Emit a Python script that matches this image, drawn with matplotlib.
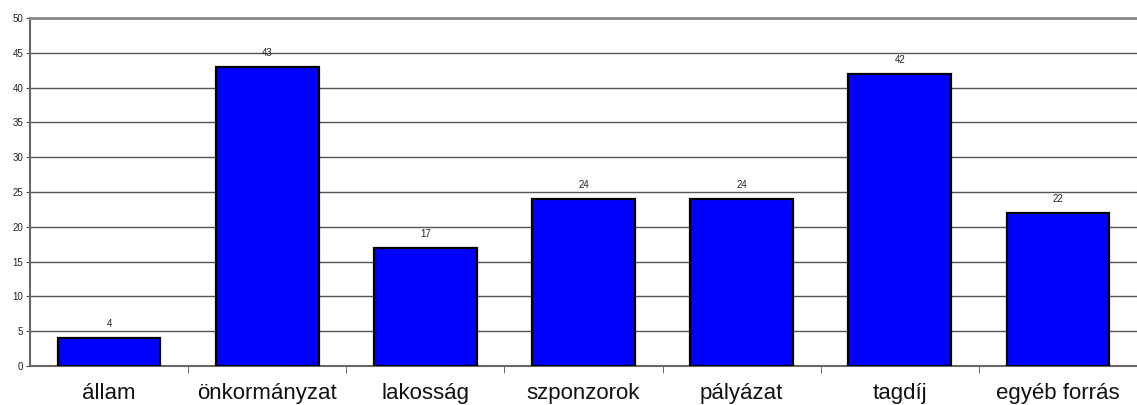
import matplotlib.pyplot as plt

kategoriak = ["állam", "önkormányzat", "lakosság", "szponzorok", "pályázat", "tagdíj", "egyéb forrás"]
ertekek = [4, 43, 17, 24, 24, 42, 22]
y_tickek = [0, 5, 10, 15, 20, 25, 30, 35, 40, 45, 50]

plt.rcParams['font.family'] = ['Liberation Sans', 'DejaVu Sans']

fig = plt.figure(figsize=(11.37, 4.05), dpi=100)
ax = fig.add_axes([0.0264, 0.0963, 0.9736, 0.8593])

x = list(range(len(kategoriak)))
oszlopok = ax.bar(x, ertekek, width=0.65, color="#0000FF", edgecolor="black", linewidth=1.6, zorder=3)

for xi, v in zip(x, ertekek):
    ax.text(xi, v + 1.3, str(v), ha="center", va="bottom", fontsize=7, color="#222222")

ax.set_xlim(-0.5, len(kategoriak) - 0.5)
ax.set_ylim(0, 50)
ax.set_yticks(y_tickek)
ax.set_yticklabels([str(t) for t in y_tickek], fontsize=7, color="#222222")
ax.yaxis.grid(True, color="#555555", linewidth=1.0, zorder=0)

# kategória határok a tengely alatt
ax.set_xticks([i + 0.5 for i in x[:-1]], minor=True)
ax.set_xticks(x)
ax.set_xticklabels(kategoriak, fontsize=16, color="#111111")
ax.tick_params(axis="x", which="major", length=0, pad=12)
ax.tick_params(axis="x", which="minor", length=5, direction="out", color="#555555")
ax.tick_params(axis="y", length=3, direction="out", color="#555555", pad=2)

for s in ["left", "bottom"]:
    ax.spines[s].set_color("#666666")
    ax.spines[s].set_linewidth(1.5)
ax.spines["top"].set_color("#888888")
ax.spines["top"].set_linewidth(2)
ax.spines["right"].set_visible(False)

fig.savefig("out.png", dpi=100)
